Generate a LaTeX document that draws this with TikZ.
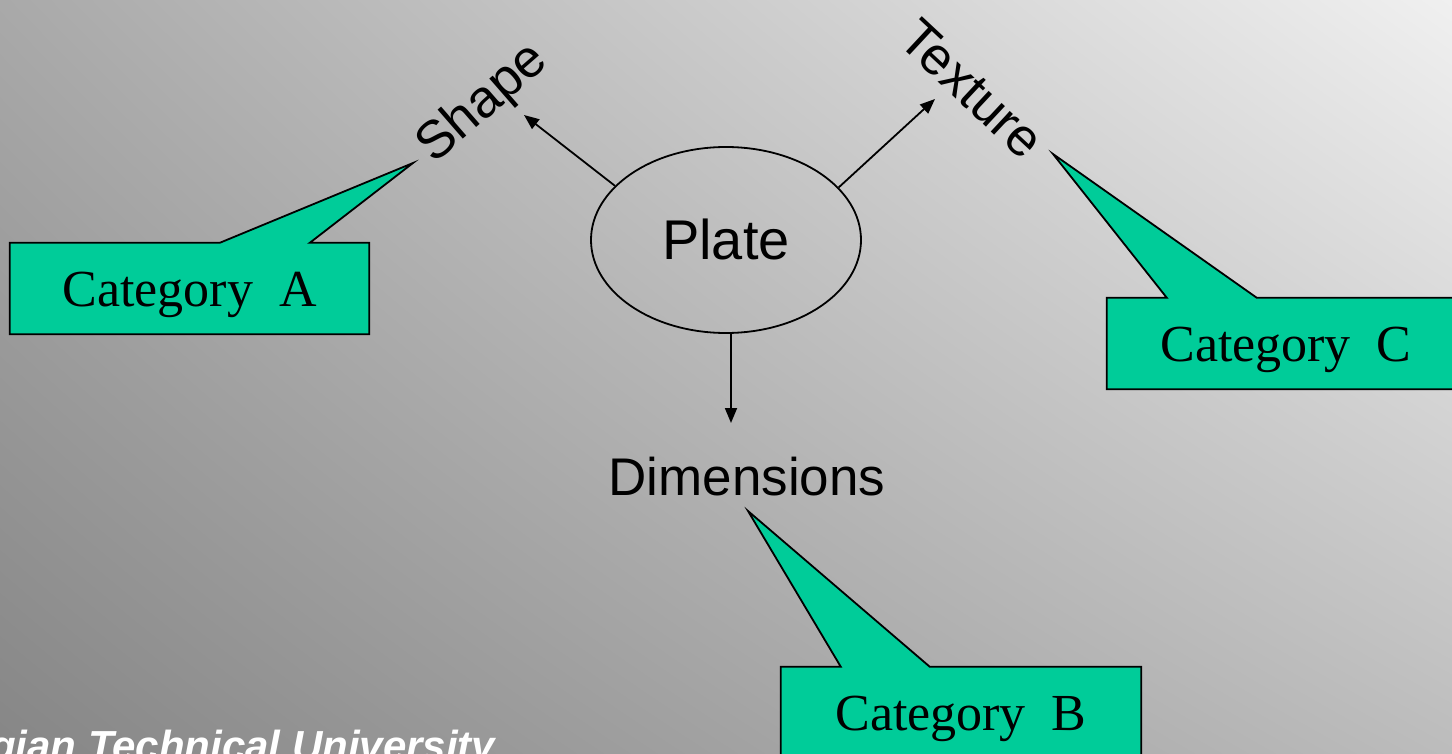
\documentclass[tikz,border=0pt]{standalone}
\usepackage{fontspec}
\setmainfont{Liberation Serif}
\newfontfamily\arialfont{Liberation Sans}
\usetikzlibrary{shapes.geometric, arrows.meta, shadings, calc}
\definecolor{calloutgreen}{RGB}{0,204,153}
\definecolor{bgUL}{RGB}{169,169,169}
\definecolor{bgUR}{RGB}{240,240,240}
\definecolor{bgLL}{RGB}{134,134,134}
\definecolor{bgLR}{RGB}{188,188,188}
\tikzset{
    word/.style = {font=\arialfont\fontsize{53}{60}\selectfont, inner sep=0pt},
    link/.style = {draw, line width=1.8pt, -{Triangle[length=15pt,width=12pt]}},
}
\tikzset{
    catbox/.style = {rectangle, fill=calloutgreen, minimum height=91pt, inner sep=0pt,
        font=\fontsize{52}{60}\selectfont, text height=35pt, text depth=0pt},
    catline/.style = {draw, line width=1.8pt, line join=miter},
}

\begin{document}
\begin{tikzpicture}[x=1pt, y=-1pt]
        \shade[upper left=bgUL, upper right=bgUR, lower left=bgLL, lower right=bgLR]
            (0,0) rectangle (1452,754);
        \useasboundingbox (0,0) rectangle (1452,754);
        % centre and the three features
        \node[ellipse, draw, line width=1.8pt, minimum width=270pt, minimum height=186pt,
            font=\arialfont\fontsize{56}{60}\selectfont, text height=40pt, text depth=0pt] (plate) at (726, 240) {Plate};
        \node[word, rotate=41] (shape) at (483, 104) {Shape};
        \node[word, rotate=-43] (texture) at (972, 89) {Texture};
        \node[word] (dims) at (747, 477) {Dimensions};
        \coordinate (shapetip) at (524, 115);
        \coordinate (texturetip) at (935, 99);
        \coordinate (dimstip) at (731, 423);
        \draw[link] (plate.154) to (shapetip);
        \draw[link] (plate.25) to (texturetip);
        \draw[link] (dimstip |- plate.south) to (dimstip);
        % callouts
        \coordinate (apoint) at (413, 163);
        \coordinate (bpoint) at (748, 511);
        \coordinate (cpoint) at (1053, 154);
        \node[catbox, minimum width=359pt] (catA) at (189.5, 288.5) {Category\ \ A};
        \node[catbox, minimum width=360pt] (catB) at (961, 712.5) {Category\ \ B};
        \node[catbox, minimum width=358pt] (catC) at (1286, 343.5) {Category\ \ C};
        \fill[calloutgreen] ($(catA.north west)+(210,0)$) -- (apoint) -- ($(catA.north west)+(300,0)$) -- cycle;
        \fill[calloutgreen] ($(catB.north west)+(60,0)$) -- (bpoint) -- ($(catB.north west)+(149,0)$) -- cycle;
        \fill[calloutgreen] ($(catC.north west)+(60,0)$) -- (cpoint) -- ($(catC.north west)+(150,0)$) -- cycle;
        \draw[catline] ($(catA.north west)+(210,0)$) -- (apoint) -- ($(catA.north west)+(300,0)$)
            -- (catA.north east) -- (catA.south east) -- (catA.south west) -- (catA.north west) -- cycle;
        \draw[catline] ($(catB.north west)+(60,0)$) -- (bpoint) -- ($(catB.north west)+(149,0)$)
            -- (catB.north east) -- (catB.south east) -- (catB.south west) -- (catB.north west) -- cycle;
        \draw[catline] ($(catC.north west)+(60,0)$) -- (cpoint) -- ($(catC.north west)+(150,0)$)
            -- (catC.north east) -- (catC.south east) -- (catC.south west) -- (catC.north west) -- cycle;
        \node[anchor=base west, inner sep=0pt, text=white, font=\arialfont\bfseries\itshape\fontsize{42}{48}\selectfont] (uni) at (-10, 760) {gian Technical University};
    \end{tikzpicture}
\end{document}
